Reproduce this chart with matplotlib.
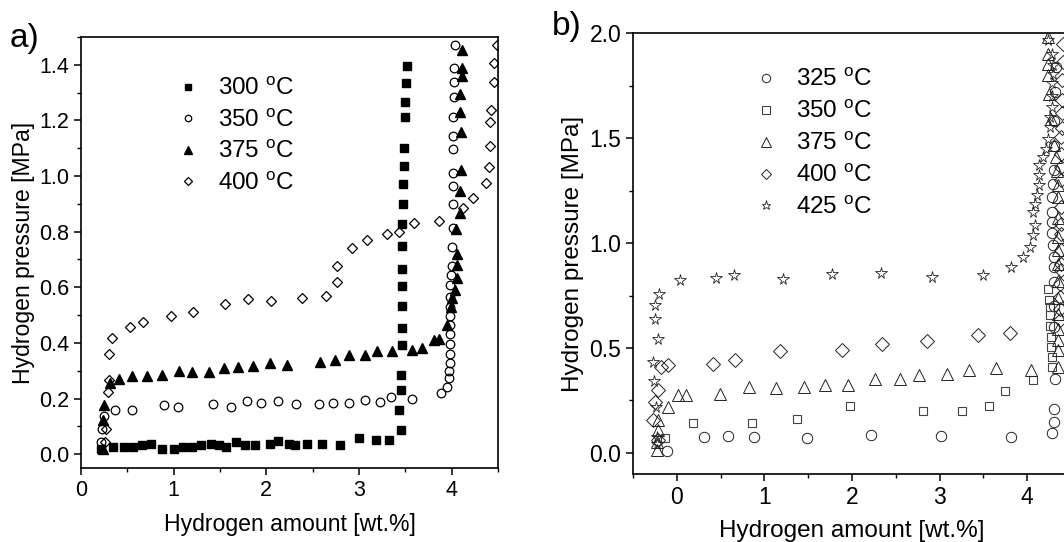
import matplotlib
matplotlib.use('Agg')
import matplotlib.pyplot as plt
from matplotlib.ticker import MultipleLocator

plt.rcParams['font.family'] = ['Liberation Sans', 'DejaVu Sans']
plt.rcParams['mathtext.default'] = 'regular'
plt.rcParams['font.size'] = 15

# ---- panel a) data
x300 = [0.22, 0.35, 0.46, 0.565, 0.66, 0.76, 0.87, 1.0, 1.1, 1.2, 1.29, 1.4, 1.49, 1.56, 1.67, 1.77,
        1.88, 2.04, 2.13, 2.24, 2.31, 2.44, 2.6, 2.8, 3.0, 3.18, 3.32, 3.45, 3.43, 3.45, 3.45, 3.46,
        3.46, 3.46, 3.46, 3.46, 3.46, 3.46, 3.47, 3.48, 3.49, 3.49, 3.5, 3.5, 3.51, 3.52]
y300 = [0.02, 0.025, 0.025, 0.025, 0.031, 0.035, 0.02, 0.02, 0.025, 0.025, 0.031, 0.035, 0.031, 0.025,
        0.043, 0.031, 0.031, 0.037, 0.047, 0.037, 0.031, 0.035, 0.037, 0.034, 0.058, 0.049, 0.049,
        0.086, 0.16, 0.232, 0.284, 0.392, 0.455, 0.533, 0.603, 0.666, 0.747, 0.826, 0.90, 0.97,
        1.036, 1.10, 1.213, 1.265, 1.333, 1.397]

x350 = [0.22, 0.23, 0.25, 0.37, 0.55, 0.90, 1.045, 1.42, 1.62, 1.79, 1.945, 2.13, 2.32, 2.57, 2.72,
        2.89, 3.06, 3.23, 3.35, 3.575,
        3.88, 3.95, 3.97, 3.97, 3.98, 3.98, 3.98, 3.98, 3.98, 3.98, 3.98, 3.98, 3.98,
        3.99, 4.0, 4.0, 4.01, 4.01, 4.01, 4.02, 4.02, 4.02, 4.02, 4.03, 4.03, 4.03, 4.04]
y350 = [0.043, 0.092, 0.137, 0.16, 0.16, 0.176, 0.17, 0.18, 0.17, 0.19, 0.183, 0.19, 0.18, 0.18, 0.183,
        0.183, 0.194, 0.187, 0.204, 0.20,
        0.218, 0.242, 0.272, 0.30, 0.328, 0.36, 0.396, 0.432, 0.464, 0.498, 0.53, 0.565, 0.609,
        0.645, 0.675, 0.744, 0.814, 0.90, 0.964, 1.012, 1.096, 1.144, 1.213, 1.283, 1.337, 1.39, 1.47]

x375 = [0.24, 0.24, 0.25, 0.31, 0.41, 0.55, 0.71, 0.87, 1.06, 1.2, 1.38, 1.54, 1.69, 1.86, 2.04, 2.22,
        2.58, 2.74, 2.89, 3.06, 3.19, 3.36, 3.57, 3.68, 3.81, 3.86, 3.95, 3.99, 4.0, 4.04, 4.06,
        4.06, 4.06, 4.05, 4.09, 4.09, 4.1, 4.1, 4.09, 4.09, 4.11, 4.11, 4.11]
y375 = [0.02, 0.124, 0.178, 0.254, 0.27, 0.28, 0.28, 0.284, 0.30, 0.295, 0.295, 0.308, 0.314, 0.318,
        0.328, 0.32, 0.332, 0.34, 0.356, 0.356, 0.37, 0.37, 0.374, 0.38, 0.41, 0.415, 0.464, 0.53,
        0.56, 0.59, 0.633,
        0.68, 0.72, 0.81, 0.868, 0.946, 1.02, 1.16, 1.23, 1.295, 1.36, 1.39, 1.455]

x400 = [0.26, 0.27, 0.29, 0.30, 0.30, 0.34, 0.53, 0.67, 0.97, 1.205, 1.555, 1.80, 2.05, 2.385, 2.645,
        2.76, 2.76, 2.92, 3.09, 3.30, 3.43, 3.59, 3.86, 4.12, 4.23, 4.375, 4.40, 4.41, 4.41, 4.43,
        4.46, 4.46, 4.49]
y400 = [0.043, 0.092, 0.224, 0.266, 0.36, 0.417, 0.458, 0.474, 0.498, 0.51, 0.54, 0.557, 0.552, 0.561,
        0.57, 0.619, 0.675, 0.741, 0.769, 0.79, 0.80, 0.83, 0.838, 0.886, 0.92, 0.976, 1.033, 1.108,
        1.196, 1.237, 1.337, 1.406, 1.47]

# ---- panel b) data
xb325 = [-0.11, 0.31, 0.59, 0.88, 1.49, 2.22, 3.02, 3.81,
         4.28, 4.30, 4.30, 4.32, 4.31, 4.31, 4.31, 4.30, 4.30, 4.29, 4.28, 4.28, 4.28, 4.28,
         4.29, 4.30, 4.31, 4.31, 4.32, 4.33]
yb325 = [0.01, 0.076, 0.081, 0.076, 0.069, 0.088, 0.081, 0.076,
         0.095, 0.148, 0.211, 0.354, 0.60, 0.70, 0.814, 0.886, 0.933, 0.989, 1.05, 1.10, 1.148, 1.22,
         1.283, 1.35, 1.46, 1.58, 1.72, 1.84]

xb350 = [-0.13, 0.19, 0.86, 1.37, 1.98, 2.81, 3.26, 3.56, 3.75, 4.07,
         4.28, 4.28, 4.27, 4.27, 4.26, 4.26, 4.26, 4.25, 4.24]
yb350 = [0.071, 0.145, 0.145, 0.164, 0.224, 0.20, 0.20, 0.224, 0.295, 0.346,
         0.41, 0.457, 0.505, 0.552, 0.603, 0.656, 0.695, 0.727, 0.783]

xb375 = [-0.23, -0.23, -0.22, -0.21, -0.1, 0.015, 0.11, 0.49, 0.825, 1.13, 1.45, 1.69, 1.95, 2.26,
         2.545, 2.77, 3.086, 3.33, 3.64, 4.04,
         4.35, 4.35, 4.35, 4.35, 4.35, 4.35, 4.35, 4.35, 4.35, 4.35, 4.35, 4.35, 4.35,
         4.34, 4.33, 4.30, 4.27, 4.25, 4.24, 4.24, 4.24, 4.24]
yb375 = [0.013, 0.05, 0.108, 0.156, 0.219, 0.275, 0.275, 0.283, 0.314, 0.31, 0.314, 0.322, 0.326,
         0.354, 0.35, 0.373, 0.378, 0.394, 0.405, 0.394,
         0.41, 0.489, 0.537, 0.592, 0.664, 0.74, 0.82, 0.90, 0.965, 1.03, 1.12, 1.22, 1.275,
         1.345, 1.41, 1.465, 1.59, 1.71, 1.80, 1.855, 1.90, 1.98]

xb400 = [-0.27, -0.25, -0.21, -0.22, -0.175, -0.1, 0.415, 0.66, 1.18, 1.89, 2.34, 2.86, 3.44, 3.80,
         4.37, 4.37, 4.37, 4.37, 4.38, 4.38, 4.38, 4.39, 4.39, 4.39, 4.39, 4.39, 4.39, 4.39,
         4.40, 4.40, 4.40, 4.40, 4.41, 4.41]
yb400 = [0.156, 0.243, 0.299, 0.06, 0.41, 0.418, 0.426, 0.445, 0.484, 0.489, 0.518, 0.532, 0.56, 0.573,
         0.632, 0.688, 0.743, 0.807, 0.87, 0.90, 0.965, 1.045, 1.09, 1.17, 1.30, 1.362, 1.426, 1.505,
         1.55, 1.62, 1.68, 1.775, 1.86, 1.95]

xb425 = [-0.23, -0.23, -0.24, -0.26, -0.27, -0.22, -0.25, -0.25, -0.20,
         0.034, 0.445, 0.65, 1.21, 1.77, 2.33, 2.91, 3.49, 3.82, 3.95, 4.03, 4.07, 4.09, 4.07, 4.09,
         4.11, 4.13, 4.13, 4.14, 4.18, 4.22, 4.24, 4.26, 4.26, 4.28, 4.28, 4.28, 4.29, 4.29, 4.28, 4.24]
yb425 = [0.045, 0.076, 0.219, 0.343, 0.433, 0.541, 0.64, 0.703, 0.759,
         0.822, 0.835, 0.846, 0.83, 0.851, 0.857, 0.838, 0.846, 0.886, 0.933, 0.981, 1.037, 1.084,
         1.148, 1.188, 1.227, 1.275, 1.322, 1.37, 1.41, 1.45, 1.497, 1.552, 1.60, 1.648, 1.70, 1.76,
         1.806, 1.85, 1.90, 1.965]

labels_a = ['300 $^{o}$C', '350 $^{o}$C', '375 $^{o}$C', '400 $^{o}$C']
labels_b = ['325 $^{o}$C', '350 $^{o}$C', '375 $^{o}$C', '400 $^{o}$C', '425 $^{o}$C']

fig = plt.figure(figsize=(10.64, 5.42), dpi=100)
ax1 = fig.add_axes([0.0761, 0.1365, 0.3919, 0.7952])
ax2 = fig.add_axes([0.5949, 0.1255, 0.4117, 0.8135])

# panel a
ax1.plot(x300, y300, 's', ms=5.4, color='black', ls='none', label=labels_a[0])
ax1.plot(x350, y350, 'o', ms=6.2, mfc='none', mec='black', mew=0.9, ls='none', label=labels_a[1])
ax1.plot(x375, y375, '^', ms=6.8, color='black', ls='none', label=labels_a[2])
ax1.plot(x400, y400, 'D', ms=5.4, mfc='none', mec='black', mew=0.9, ls='none', label=labels_a[3])

ax1.set_xlim(0, 4.5)
ax1.set_ylim(-0.05, 1.5)
ax1.xaxis.set_major_locator(MultipleLocator(1))
ax1.xaxis.set_minor_locator(MultipleLocator(0.5))
ax1.yaxis.set_minor_locator(MultipleLocator(0.1))
ax1.set_yticks([0, 0.2, 0.4, 0.6, 0.8, 1.0, 1.2, 1.4])
ax1.set_xlabel('Hydrogen amount [wt.%]', fontsize=16.6, labelpad=9)
ax1.set_ylabel('Hydrogen pressure [MPa]', fontsize=16.6, labelpad=3)
ax1.legend(loc='upper left', bbox_to_anchor=(0.175, 0.955), frameon=False, markerscale=0.75,
           handlelength=1.0, handletextpad=0.75, labelspacing=0.38, fontsize=17.5)

# panel b
ax2.plot(xb325, yb325, 'o', ms=7.5, mfc='none', mec='#222222', mew=0.7, ls='none', label=labels_b[0])
ax2.plot(xb350, yb350, 's', ms=6.4, mfc='none', mec='#444444', mew=0.8, ls='none', label=labels_b[1])
ax2.plot(xb375, yb375, '^', ms=8.5, mfc='none', mec='#222222', mew=0.7, ls='none', label=labels_b[2])
ax2.plot(xb400, yb400, 'D', ms=6.8, mfc='none', mec='#222222', mew=0.7, ls='none', label=labels_b[3])
ax2.plot(xb425, yb425, '*', ms=8.5, mfc='none', mec='#222222', mew=0.6, ls='none', label=labels_b[4])

ax2.set_xlim(-0.5, 4.5)
ax2.set_ylim(-0.1, 2.0)
ax2.xaxis.set_major_locator(MultipleLocator(1))
ax2.xaxis.set_minor_locator(MultipleLocator(0.5))
ax2.yaxis.set_major_locator(MultipleLocator(0.5))
ax2.yaxis.set_minor_locator(MultipleLocator(0.25))
ax2.set_xlabel('Hydrogen amount [wt.%]', fontsize=17.5, labelpad=8)
ax2.set_ylabel('Hydrogen pressure [MPa]', fontsize=17.5, labelpad=4)
ax2.legend(loc='upper left', bbox_to_anchor=(0.225, 0.968), frameon=False, markerscale=0.8,
           handlelength=1.0, handletextpad=0.75, labelspacing=0.4, fontsize=17.5)

for ax in (ax1, ax2):
    for s in ax.spines.values():
        s.set_linewidth(1.2)
    ax.tick_params(which='major', direction='out', length=5, width=1.1)
    ax.tick_params(which='minor', direction='out', length=3, width=1.0)
ax1.tick_params(which='major', labelsize=15.5)
ax2.tick_params(which='major', labelsize=16.5)

fig.text(0.0094, 0.913, 'a)', fontsize=24)
fig.text(0.519, 0.935, 'b)', fontsize=24)

fig.savefig('out.png', dpi=100)
